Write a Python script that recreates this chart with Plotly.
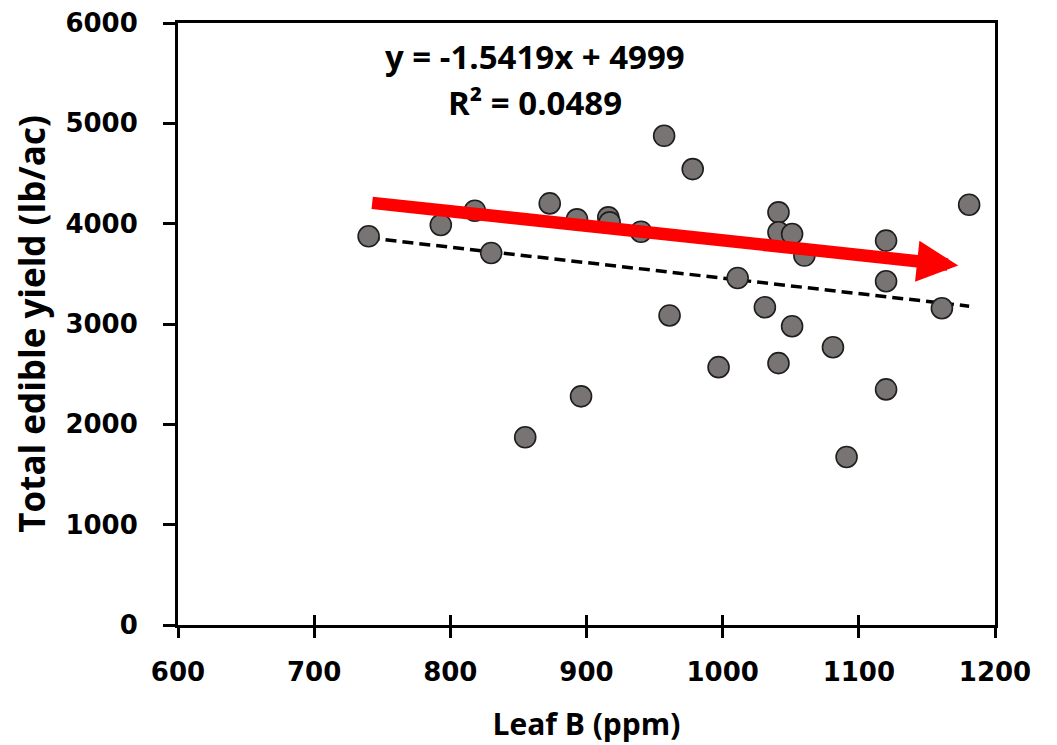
import plotly.graph_objects as go

# Data
leaf_b = [740, 793, 818, 830, 873, 893, 916, 917, 940, 957, 978, 961,
          1041, 1041, 1051, 1060, 1011, 1031, 1051, 1081, 997, 1041,
          1120, 1120, 1120, 1091, 1161, 1181, 896, 855]
yield_lb = [3874, 3987, 4129, 3708, 4202, 4043, 4063, 4013, 3920, 4876, 4544, 3085,
            4113, 3914, 3897, 3682, 3459, 3167, 2978, 2769, 2570, 2610,
            3831, 3426, 2348, 1675, 3157, 4189, 2279, 1871]

slope = -1.5419
intercept = 4999
r2 = 0.0489

x_ticks = [600, 700, 800, 900, 1000, 1100, 1200]
y_ticks = [0, 1000, 2000, 3000, 4000, 5000, 6000]

# Red trend arrow (tail -> head), data coordinates
arrow_tail = (741.5, 4209)
arrow_head = (1173, 3582)

eq_pos = (862, 5670)
r2_pos = (862, 5205)

trend_x = [min(leaf_b), max(leaf_b)]
trend_y = [slope * v + intercept for v in trend_x]

fig = go.Figure()
fig.add_trace(go.Scatter(
    x=trend_x, y=trend_y, mode="lines",
    line=dict(color="black", width=3.5, dash="11px,6px"),
    hoverinfo="skip", showlegend=False))
fig.add_trace(go.Scatter(
    x=leaf_b, y=yield_lb, mode="markers",
    marker=dict(size=21, color="#787474", line=dict(color="#1e1e1e", width=1.6)),
    showlegend=False))
# invisible trace to materialize the overlay axis (inside tick marks)
fig.add_trace(go.Scatter(x=[x_ticks[0]], y=[y_ticks[0]], xaxis="x2", mode="markers",
                         marker=dict(opacity=0), hoverinfo="skip", showlegend=False))

tick_font = dict(family="DejaVu Sans", size=26, color="black", weight="bold")
title_font = dict(family="Open Sans", size=30, color="black", weight="bold")

fig.update_layout(
    width=1057, height=745,
    margin=dict(l=170, r=70, t=15, b=128),
    paper_bgcolor="white", plot_bgcolor="white",
    xaxis=dict(range=[600, 1200], tickvals=x_ticks, ticks="outside", ticklen=10,
               tickwidth=3, tickcolor="black", showline=True, linewidth=3,
               linecolor="black", mirror=True, showgrid=False, zeroline=False,
               tickfont=tick_font, ticklabelstandoff=12, automargin=False,
               title=dict(text="Leaf B (ppm)", font=title_font, standoff=28)),
    xaxis2=dict(range=[600, 1200], tickvals=x_ticks, ticks="inside", ticklen=10,
                tickwidth=3, tickcolor="black", overlaying="x", anchor="y",
                side="bottom", showticklabels=False, showline=False,
                showgrid=False, zeroline=False, automargin=False),
    yaxis=dict(range=[0, 6000], tickvals=y_ticks, ticks="outside", ticklen=12,
               tickwidth=3, tickcolor="black", showline=True, linewidth=3,
               linecolor="black", mirror=True, showgrid=False, zeroline=False,
               tickfont=tick_font, ticklabelstandoff=20, automargin=False,
               title=dict(text="Total edible yield (lb/ac)",
                          font=dict(family="Open Sans", size=35, color="black", weight="bold"),
                          standoff=10)),
)

fig.add_annotation(x=arrow_head[0], y=arrow_head[1], ax=arrow_tail[0], ay=arrow_tail[1],
                   xref="x", yref="y", axref="x", ayref="y", text="",
                   showarrow=True, arrowhead=2, arrowsize=0.66, arrowwidth=12.5,
                   arrowcolor="#ff0000")

eq_font = dict(family="Open Sans", size=33, color="black", weight="bold")
fig.add_annotation(x=eq_pos[0], y=eq_pos[1], xref="x", yref="y", showarrow=False,
                   text=f"y = {slope}x + {intercept}", font=eq_font)
fig.add_annotation(x=r2_pos[0], y=r2_pos[1], xref="x", yref="y", showarrow=False,
                   text=f"R² = {r2}", font=eq_font)

fig.write_html("out.html")
